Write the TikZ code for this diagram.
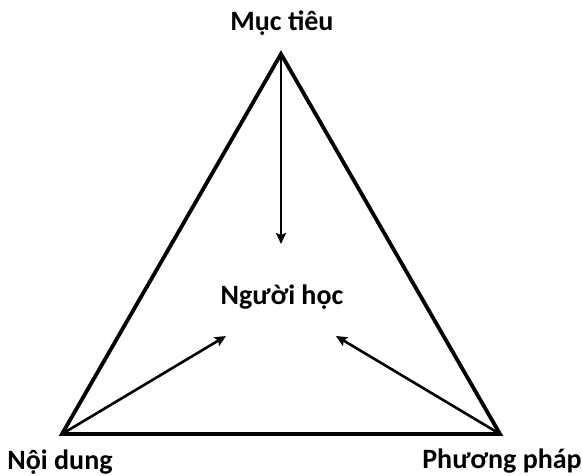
\documentclass[tikz,border=0pt]{standalone}
\usepackage{fontspec}
\setmainfont{Carlito}
\usetikzlibrary{arrows.meta}
\begin{document}
\begin{tikzpicture}[x=1pt,y=1pt,
  lbl/.style={font=\bfseries\fontsize{28}{30}\selectfont, anchor=base, inner sep=0pt},
  tri/.style={line width=3.8pt, line join=miter},
  arr/.style={line width=2.6pt, -{Stealth[length=11pt,width=10pt,inset=2pt]}}]
\useasboundingbox (0,0) rectangle (582,475);
\coordinate (A) at (281,421);
\coordinate (B) at (62,41);
\coordinate (C) at (500,41);
\coordinate (tA) at (281,231);
\coordinate (tB) at (226,139);
\coordinate (tC) at (336,139);
\draw[tri] (A) -- (B) -- (C) -- cycle;
\node[lbl] (muctieu) at (282,444) {Mục tiêu};
\node[lbl] (nguoihoc) at (282,171) {Người học};
\node[lbl] (noidung) at (60,6) {Nội dung};
\node[lbl] (phuongphap) at (502,7) {Phương pháp};
\draw[arr] (A) -- (tA);
\draw[arr] (B) -- (tB);
\draw[arr] (C) -- (tC);
\end{tikzpicture}
\end{document}
